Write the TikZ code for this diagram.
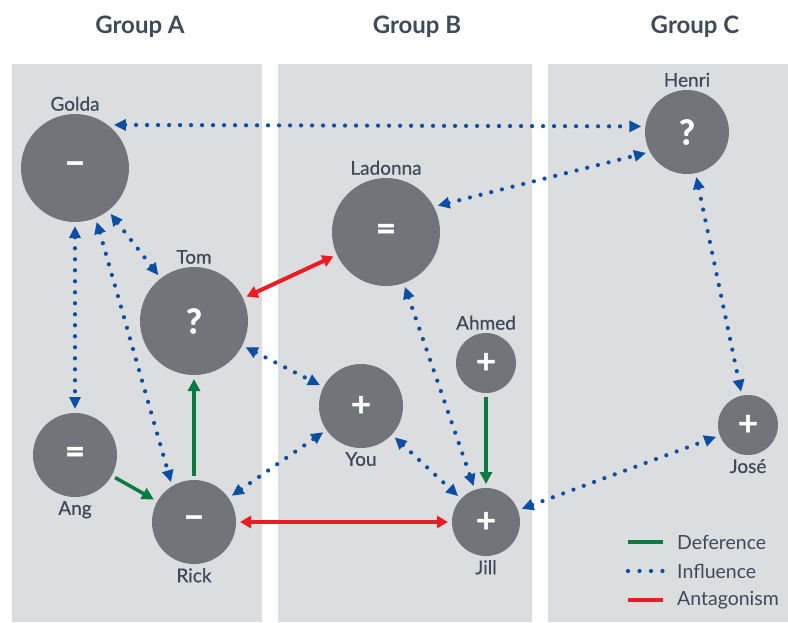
\documentclass[tikz,border=0pt]{standalone}
\usepackage{fontspec}
\setmainfont{Lato}
\newfontfamily\signfont[FakeBold=1.5]{Lato Bold}
\newfontfamily\tagfont[FakeBold=0.6]{Lato}
\usepackage{tikz}
\usepackage{xcolor}
\usetikzlibrary{arrows.meta,positioning,calc}

\definecolor{panelgray}{HTML}{DCDDDF}
\definecolor{circlegray}{HTML}{737479}
\definecolor{labelslate}{HTML}{3F4B5B}
\definecolor{infblue}{HTML}{0B4EA2}
\definecolor{defgreen}{HTML}{0A7B43}
\definecolor{antred}{HTML}{EC1C24}

\begin{document}
\begin{tikzpicture}[x=1pt, y=-1pt,
    person/.style={circle, fill=circlegray, text=white, font=\fontsize{34}{34}\signfont, inner sep=0pt, outer sep=4pt},
    nametag/.style={text=labelslate, font=\fontsize{19}{19}\tagfont, inner sep=1pt},
    grouptitle/.style={text=labelslate, font=\fontsize{24}{24}\selectfont\bfseries},
    legendtext/.style={text=labelslate, font=\fontsize{19.5}{19.5}\selectfont, inner sep=0pt, anchor=west},
    influence/.style={infblue, line width=4.2pt, dash pattern=on 0pt off 11pt, line cap=round, {Triangle[length=12pt,width=11pt]}-{Triangle[length=12pt,width=11pt]}},
    deference/.style={defgreen, line width=3.5pt, -{Triangle[length=12pt,width=12pt]}},
    antagonism/.style={antred, line width=4pt, {Triangle[length=11pt,width=12pt]}-{Triangle[length=11pt,width=12pt]}}]
    \useasboundingbox (0,0) rectangle (788,622);

    % Panels and titles
    \fill[panelgray] (12,64) rectangle (262,622);
    \fill[panelgray] (278,64) rectangle (532,622);
    \fill[panelgray] (548,64) rectangle (788,622);
    \node[grouptitle] (groupa) at (140,27) {Group A};
    \node[grouptitle] (groupb) at (417,27) {Group B};
    \node[grouptitle] (groupc) at (695,27) {Group C};

    % Circles for the people
    \node[person, minimum size=108pt] (golda) at (75,168) {−};
    \node[person, minimum size=108pt] (tom) at (194,321) {?};
    \node[person, minimum size=84pt] (ang) at (75,455) {=};
    \node[person, minimum size=84pt] (rick) at (194,522) {−};
    \node[person, minimum size=108pt] (ladonna) at (386,232) {=};
    \node[person, minimum size=84pt] (you) at (361,406) {+};
    \node[person, minimum size=60pt] (ahmed) at (486,363) {+};
    \node[person, minimum size=68pt] (jill) at (486,522) {+};
    \node[person, minimum size=84pt] (henri) at (687,132) {?};
    \node[person, minimum size=60pt] (jose) at (748,425) {+};

    % Names
    \node[nametag, above=-2pt of golda] (goldaname) {Golda};
    \node[nametag, above=-2pt of tom] (tomname) {Tom};
    \node[nametag, below=-1pt of ang] (angname) {Ang};
    \node[nametag, below=-1pt of rick] (rickname) {Rick};
    \node[nametag, above=-2pt of ladonna] (ladonnaname) {Ladonna};
    \node[nametag, below=-1pt of you] (youname) {You};
    \node[nametag, above=-2pt of ahmed] (ahmedname) {Ahmed};
    \node[nametag, below=-1pt of jill] (jillname) {Jill};
    \node[nametag, above=-2pt of henri] (henriname) {Henri};
    \node[nametag, below=-1pt of jose] (josename) {José};

    % Influence
    \draw[influence] (golda.48) -- (henri.173);
    \draw[influence] (ladonna.27) -- (henri.207);
    \draw[influence] (golda) -- (tom);
    \draw[influence] (golda) -- (ang);
    \draw[influence] (golda.292) -- (rick.120);
    \draw[influence] (tom) -- (you);
    \draw[influence] (rick) -- (you);
    \draw[influence] (you) -- (jill);
    \draw[influence] (ladonna) -- (jill);
    \draw[influence] (jill) -- (jose);
    \draw[influence] (henri) -- (jose);

    % Deference
    \draw[deference] (ang) -- (rick);
    \draw[deference] (rick) -- (tom);
    \draw[deference] (ahmed) -- (jill);

    % Antagonism
    \draw[antagonism] (tom) -- (ladonna);
    \draw[antagonism] (rick) -- (jill);

    % Legend
    \coordinate (defstart) at (628,542);
    \coordinate (defend) at (663,542);
    \coordinate (infstart) at (628,571);
    \coordinate (infend) at (663,571);
    \coordinate (antstart) at (628,600);
    \coordinate (antend) at (663,600);
    \draw[defgreen, line width=4pt] (defstart) -- (defend);
    \draw[infblue, line width=4.2pt, dash pattern=on 0pt off 11.5pt, line cap=round] (infstart) -- (infend);
    \draw[antred, line width=4pt] (antstart) -- (antend);
    \node[legendtext] (deflabel) at (677,542) {Deference};
    \node[legendtext] (inflabel) at (677,571) {Influence};
    \node[legendtext] (antlabel) at (677,600) {Antagonism};
\end{tikzpicture}
\end{document}
